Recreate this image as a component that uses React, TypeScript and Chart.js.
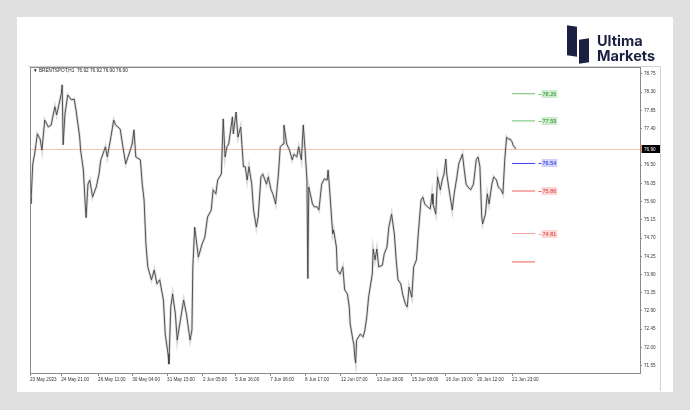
import React, { useEffect, useRef } from 'react';
import { Chart, registerables } from 'chart.js';

Chart.register(...registerables);

// ---------- data ----------
const headerText = 'BRENTSPOT,H1  76.92 76.92 76.90 76.90';

// hourly bar number of each sampled close
const barIndex = [
  0, 1, 3, 5, 8, 11, 13, 16, 20, 23, 27, 29, 34, 35, 36, 38, 41, 45, 48, 50,
  54, 55, 58, 60, 61, 63, 65, 68, 72, 75, 77, 82, 84, 87, 91, 93, 98, 101, 104, 109,
  111, 113, 115, 120, 122, 124, 126, 128, 132, 135, 138, 141, 145, 147, 150, 151, 153, 155, 158, 160,
  164, 167, 170, 174,
  176, 177, 179, 183, 187, 190, 193, 197, 199, 202, 204, 208, 210, 212, 214, 216, 220, 221, 224, 226,
  229, 232, 234, 236, 238, 241, 243, 246, 248, 251, 253, 257, 259, 262, 264, 267, 270, 272, 275, 276,
  279, 282, 285, 287, 290, 292, 295, 297, 299, 301, 302, 303, 307, 309, 312, 314, 317, 320, 323, 324,
  326, 329, 330, 333, 334, 337, 340, 342, 345, 347, 348, 351, 352, 353, 354, 355,
  359, 362, 364, 366, 368, 372, 373, 375, 377, 379, 383, 385, 388, 390, 393, 396, 398, 400, 403, 405,
  408, 410, 412, 415, 417, 420, 422, 425, 427, 429, 432, 435, 437, 438, 441, 443, 446, 448, 450, 452,
  453, 455, 459, 461, 464, 466, 470, 472, 474, 476, 479, 482, 485, 487, 489, 491, 492, 495, 497, 499,
  502, 504, 507, 509, 512, 514, 516, 518, 520, 522, 524, 525, 528,
];

const closes = [
  75.70, 75.55, 76.53, 76.77, 77.27, 77.14, 76.87, 77.61, 77.44, 77.49, 77.94, 77.74, 78.26, 78.48, 77.00, 77.76, 78.23, 78.11, 78.13, 77.86,
  77.19, 76.87, 76.38, 75.54, 75.20, 76.03, 76.13, 75.71, 75.96, 76.28, 76.63, 76.95, 76.70, 77.07, 77.61, 77.49, 77.39, 76.95, 76.53, 76.87,
  77.02, 77.37, 76.70, 76.63, 76.03, 75.64, 74.55, 73.99, 73.67, 73.91, 73.57, 73.67, 73.17, 72.33, 71.84, 71.59, 73.00, 73.32, 72.83, 72.18,
  72.75, 73.17, 72.83, 72.18,
  72.43, 73.99, 74.97, 74.23, 74.55, 74.72, 75.22, 75.39, 75.89, 75.79, 76.13, 76.28, 77.64, 76.70, 76.95, 77.02, 77.69, 77.27, 77.81, 77.19,
  77.44, 76.46, 76.46, 76.13, 76.46, 76.03, 75.39, 74.97, 75.22, 76.21, 76.28, 76.03, 76.21, 75.89, 75.79, 75.54, 76.28, 76.95, 77.02, 77.49,
  77.02, 76.87, 76.63, 76.77, 76.70, 76.95, 76.63, 77.49, 76.87, 76.13, 73.70, 75.96, 75.54, 75.47, 75.47, 75.39, 76.03, 76.16, 76.13, 76.38,
  75.79, 74.80, 74.90, 74.48, 73.91, 73.81, 73.99, 73.42, 73.32, 73.00, 72.58, 72.18, 72.08, 71.76, 71.62, 72.18,
  72.33, 72.26, 72.43, 72.75, 73.24, 73.81, 74.43, 74.16, 74.43, 73.99, 74.03, 74.31, 74.48, 74.97, 75.29, 74.80, 74.16, 73.67, 73.57, 73.32,
  73.07, 73.00, 73.49, 73.24, 73.99, 74.16, 74.80, 75.64, 75.71, 75.54, 75.47, 75.42, 75.79, 75.54, 75.29, 76.21, 75.89, 76.13, 76.28, 76.65,
  76.28, 75.96, 75.39, 75.79, 76.21, 76.53, 76.77, 76.38, 76.03, 75.96, 75.89, 76.03, 76.63, 76.70, 76.46, 75.22, 75.05, 75.29, 75.79, 75.54,
  76.03, 76.21, 76.13, 75.96, 75.89, 75.79, 76.63, 77.19, 77.14, 77.14, 77.07, 76.99, 76.90,
];

const xTickBars = [0, 34, 74, 111, 149, 188, 223, 261, 299, 338, 377, 415, 452, 486, 524];
const xTickLabels = [
  '23 May 2023', '24 May 21:00', '26 May 11:00', '30 May 04:00', '31 May 15:00',
  '2 Jun 05:00', '5 Jun 16:00', '7 Jun 06:00', '8 Jun 17:00', '12 Jun 07:00',
  '13 Jun 18:00', '15 Jun 08:00', '16 Jun 19:00', '20 Jun 12:00', '21 Jun 23:00',
];
const yTickValues = [78.75, 78.30, 77.85, 77.40, 76.50, 76.05, 75.60, 75.15, 74.70, 74.25, 73.80, 73.35, 72.90, 72.45, 72.00, 71.55];
const currentPrice = 76.90;

const levelValues = [78.26, 77.59, 76.54, 75.86, 74.81, 74.11];
const levelLabels = ['78.26', '77.59', '76.54', '75.86', '74.81', ''];
const levelStartBar = 524;
const levelEndBar = 549;
const levelLabelBar = 556;

// ---------- styles ----------
const levelLineColors = ['#6cc06c', '#6cc06c', '#3c3cff', '#f05a5a', '#f5a0a0', '#f05a5a'];
const levelBoxColors = ['#cdeecd', '#cdeecd', '#cfd2ff', '#fdd6d6', '#fdd6d6', '#fdd6d6'];
const levelTextColors = ['#2f8a2f', '#2f8a2f', '#2b2be0', '#d83a3a', '#d83a3a', '#d83a3a'];
const FONT = '"Liberation Sans", Arial, sans-serif';

const overlayPlugin = {
  id: 'overlay',
  beforeDatasetsDraw(chart: any) {
    const { ctx, chartArea, scales } = chart;
    const y = Math.round(scales.y.getPixelForValue(currentPrice)) + 0.5;
    ctx.save();
    ctx.strokeStyle = '#f7c3ad';
    ctx.lineWidth = 1;
    ctx.beginPath();
    ctx.moveTo(chartArea.left, y);
    ctx.lineTo(chartArea.right, y);
    ctx.stroke();
    ctx.restore();
  },
  afterDraw(chart: any) {
    const { ctx, chartArea, scales } = chart;
    ctx.save();
    // plot frame
    ctx.strokeStyle = '#8a8a8a';
    ctx.lineWidth = 1;
    ctx.strokeRect(chartArea.left + 0.5, chartArea.top + 0.5, chartArea.right - chartArea.left, chartArea.bottom - chartArea.top);
    // window frame
    ctx.strokeStyle = '#d0d0d0';
    ctx.beginPath();
    ctx.moveTo(chartArea.left - 2, chartArea.top - 0.5);
    ctx.lineTo(chartArea.right + 20.5, chartArea.top - 0.5);
    ctx.lineTo(chartArea.right + 20.5, chartArea.bottom + 18);
    ctx.stroke();

    // level labels
    ctx.font = `5.5px ${FONT}`;
    ctx.textBaseline = 'middle';
    ctx.textAlign = 'left';
    levelValues.forEach((v, i) => {
      const label = levelLabels[i];
      if (!label) return;
      const y = Math.round(scales.y.getPixelForValue(v));
      const x = scales.x.getPixelForValue(levelLabelBar);
      const w = ctx.measureText(label).width + 2;
      ctx.strokeStyle = levelLineColors[i];
      ctx.beginPath();
      ctx.moveTo(x - 3, y + 0.5);
      ctx.lineTo(x, y + 0.5);
      ctx.stroke();
      ctx.fillStyle = levelBoxColors[i];
      ctx.fillRect(x, y - 4, w, 8);
      ctx.fillStyle = levelTextColors[i];
      ctx.fillText(label, x + 1, y + 0.5);
    });

    // current price box on axis
    const py = Math.round(scales.y.getPixelForValue(currentPrice));
    const bx = chartArea.right + 1;
    ctx.fillStyle = '#000';
    ctx.fillRect(bx, py - 4, 19, 8);
    ctx.strokeStyle = '#f08a60';
    ctx.beginPath();
    ctx.moveTo(bx + 0.5, py - 4);
    ctx.lineTo(bx + 0.5, py + 4);
    ctx.stroke();
    ctx.fillStyle = '#fff';
    ctx.font = `4.6px ${FONT}`;
    ctx.fillText(currentPrice.toFixed(2), bx + 3, py + 0.5);
    ctx.restore();
  },
};

export default function App() {
  const canvasRef = useRef<HTMLCanvasElement | null>(null);

  useEffect(() => {
    const canvas = canvasRef.current;
    if (!canvas) return;
    const points = barIndex.map((b, i) => ({ x: b, y: closes[i] }));
    const levelDatasets = levelValues.map((v, i) => ({
      type: 'line' as const,
      data: [{ x: levelStartBar, y: v }, { x: levelEndBar, y: v }],
      borderColor: levelLineColors[i],
      borderWidth: 1,
      pointRadius: 0,
    }));
    const chart = new Chart(canvas, {
      type: 'line',
      data: {
        datasets: [
          {
            data: points,
            borderColor: '#3a3a3a',
            borderWidth: 0.85,
            pointRadius: 0,
            tension: 0,
            order: 1,
          },
          {
            data: points,
            borderColor: 'rgba(175,175,175,0.45)',
            borderWidth: 2.6,
            pointRadius: 0,
            tension: 0,
            order: 2,
          },
          ...levelDatasets,
        ],
      },
      options: {
        animation: false,
        responsive: false,
        devicePixelRatio: 1,
        layout: { padding: { left: 30, top: 67, right: 0, bottom: 0 } },
        plugins: { legend: { display: false }, tooltip: { enabled: false } },
        scales: {
          x: {
            type: 'linear',
            min: 0,
            max: 663,
            position: 'bottom',
            grid: { drawOnChartArea: false, drawTicks: true, tickLength: 3, color: '#8a8a8a' },
            border: { display: true, color: '#8a8a8a' },
            afterBuildTicks: (scale: any) => {
              scale.ticks = xTickBars.map((v) => ({ value: v }));
            },
            afterFit: (scale: any) => {
              scale.height = 37;
            },
            ticks: {
              autoSkip: false,
              maxRotation: 0,
              minRotation: 0,
              align: 'start',
              padding: 1,
              color: '#333',
              font: { size: 4.6, family: FONT },
              callback: (v: any) => {
                const idx = xTickBars.indexOf(Number(v));
                return idx >= 0 ? xTickLabels[idx] : null;
              },
            },
          },
          y: {
            type: 'linear',
            position: 'right',
            min: 71.37,
            max: 78.92,
            grid: { drawOnChartArea: false, drawTicks: true, tickLength: 2, color: '#8a8a8a' },
            border: { display: true, color: '#8a8a8a' },
            afterBuildTicks: (scale: any) => {
              scale.ticks = yTickValues.map((v) => ({ value: v }));
            },
            afterFit: (scale: any) => {
              scale.width = 50;
            },
            ticks: {
              padding: 2,
              color: '#333',
              font: { size: 4.6, family: FONT },
              callback: (v: any) => Number(v).toFixed(2),
            },
          },
        },
      },
      plugins: [overlayPlugin],
    });
    return () => chart.destroy();
  }, []);

  return (
    <div style={{ position: 'fixed', left: 0, top: 0, width: 690, height: 410, background: '#e0e0e0', overflow: 'hidden' }}>
      <div style={{ position: 'absolute', left: 17, top: 17, width: 656, height: 375, background: '#ffffff' }} />
      <canvas ref={canvasRef} width={690} height={410} style={{ position: 'absolute', left: 0, top: 0, width: 690, height: 410 }} />
      <div style={{ position: 'absolute', left: 33, top: 68, fontFamily: FONT, fontSize: 4.7, lineHeight: '6px', color: '#222', whiteSpace: 'pre' }}>
        {'▼ ' + headerText}
      </div>
      {/* logo */}
      <div style={{ position: 'absolute', left: 567, top: 26, width: 10, height: 30, background: '#1b2042', transform: 'skewY(8deg)' }} />
      <div style={{ position: 'absolute', left: 579, top: 39, width: 10, height: 24, background: '#1b2042', transform: 'skewY(-8deg)' }} />
      <div style={{ position: 'absolute', left: 597, top: 33, fontFamily: 'Inter, "Noto Sans", sans-serif', fontWeight: 700, fontSize: 14.5, lineHeight: '15px', color: '#1b2042' }}>
        <div>Ultima</div>
        <div>Markets</div>
      </div>
    </div>
  );
}
